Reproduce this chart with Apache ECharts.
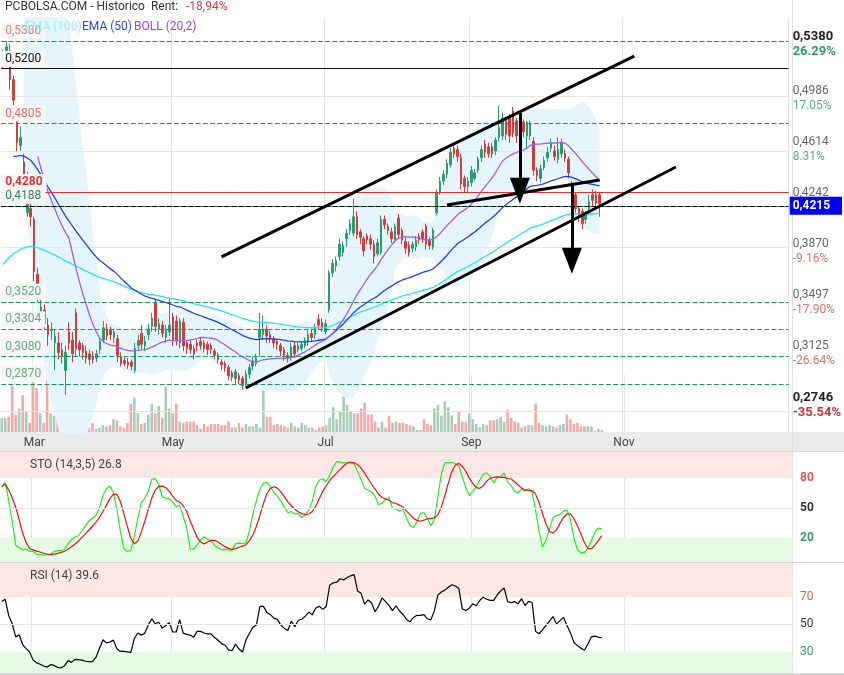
<!DOCTYPE html>
<html>
<head>
<meta charset="utf-8">
<script src="https://cdn.jsdelivr.net/npm/echarts@6/dist/echarts.min.js"></script>
<style>html,body{margin:0;padding:0;background:#fff}#chart{width:844px;height:675px}</style>
</head>
<body>
<div id="chart"></div>
<script>
// candles: open, close, low, high
var candles = [
[0.525,0.530,0.520,0.534],[0.528,0.536,0.524,0.540],[0.533,0.512,0.505,0.538],[0.512,0.497,0.492,0.515],
[0.483,0.466,0.460,0.486],[0.464,0.470,0.460,0.478],[0.452,0.440,0.436,0.458],[0.415,0.426,0.412,0.445],
[0.418,0.412,0.405,0.430],[0.410,0.372,0.365,0.412],[0.370,0.355,0.350,0.375],[0.340,0.346,0.338,0.352],
[0.344,0.334,0.330,0.348],[0.333,0.326,0.318,0.338],[0.329,0.330,0.322,0.335],[0.320,0.325,0.300,0.330],
[0.320,0.313,0.308,0.328],[0.315,0.310,0.305,0.320],[0.300,0.313,0.282,0.318],[0.328,0.320,0.315,0.335],
[0.322,0.312,0.306,0.328],[0.342,0.316,0.310,0.345],[0.320,0.315,0.310,0.322],[0.318,0.313,0.308,0.320],
[0.314,0.309,0.305,0.318],[0.312,0.308,0.304,0.315],[0.310,0.308,0.305,0.314],[0.309,0.312,0.306,0.315],
[0.315,0.321,0.312,0.324],[0.322,0.331,0.320,0.336],[0.330,0.325,0.322,0.334],[0.329,0.326,0.322,0.332],
[0.324,0.328,0.320,0.330],[0.323,0.311,0.306,0.326],[0.310,0.305,0.303,0.313],[0.307,0.305,0.303,0.310],
[0.306,0.304,0.301,0.309],[0.306,0.303,0.300,0.308],[0.300,0.316,0.298,0.320],[0.318,0.322,0.314,0.326],
[0.327,0.319,0.315,0.333],[0.318,0.321,0.314,0.325],[0.326,0.330,0.322,0.334],[0.332,0.338,0.328,0.342],
[0.349,0.332,0.328,0.352],[0.330,0.334,0.326,0.338],[0.333,0.327,0.324,0.336],[0.324,0.330,0.320,0.333],
[0.328,0.333,0.325,0.352],[0.339,0.322,0.318,0.342],[0.336,0.322,0.318,0.340],[0.320,0.336,0.316,0.338],
[0.335,0.318,0.314,0.338],[0.320,0.316,0.312,0.322],[0.319,0.315,0.312,0.322],[0.316,0.312,0.308,0.318],
[0.320,0.318,0.314,0.322],[0.321,0.318,0.315,0.324],[0.320,0.316,0.313,0.322],[0.319,0.315,0.311,0.321],
[0.318,0.315,0.312,0.320],[0.314,0.311,0.308,0.316],[0.311,0.308,0.305,0.313],[0.306,0.304,0.300,0.308],
[0.305,0.302,0.299,0.307],[0.302,0.296,0.293,0.304],[0.298,0.295,0.292,0.300],[0.294,0.299,0.290,0.301],
[0.296,0.293,0.290,0.298],[0.294,0.289,0.286,0.296],[0.290,0.297,0.288,0.300],[0.297,0.302,0.294,0.305],
[0.303,0.307,0.300,0.310],[0.305,0.309,0.303,0.312],[0.324,0.330,0.310,0.342],[0.326,0.330,0.322,0.340],
[0.330,0.325,0.320,0.333],[0.326,0.323,0.320,0.329],[0.323,0.320,0.316,0.325],[0.321,0.319,0.315,0.323],
[0.318,0.314,0.310,0.320],[0.315,0.311,0.307,0.317],[0.311,0.309,0.306,0.313],[0.310,0.317,0.307,0.320],
[0.318,0.312,0.309,0.321],[0.315,0.318,0.313,0.320],[0.316,0.319,0.314,0.321],[0.318,0.322,0.316,0.324],
[0.321,0.326,0.318,0.329],[0.327,0.324,0.321,0.330],[0.326,0.331,0.323,0.334],[0.337,0.333,0.330,0.341],
[0.335,0.331,0.328,0.338],[0.328,0.334,0.326,0.337],[0.344,0.371,0.342,0.373],[0.371,0.378,0.368,0.381],
[0.376,0.380,0.372,0.383],[0.383,0.392,0.380,0.396],[0.386,0.391,0.383,0.394],[0.396,0.400,0.390,0.403],
[0.402,0.407,0.399,0.410],[0.400,0.412,0.398,0.425],[0.412,0.399,0.396,0.416],[0.401,0.397,0.392,0.403],
[0.396,0.387,0.383,0.398],[0.398,0.395,0.392,0.400],[0.396,0.392,0.388,0.399],[0.392,0.383,0.378,0.395],
[0.385,0.393,0.383,0.396],[0.386,0.410,0.384,0.413],[0.410,0.406,0.403,0.413],[0.405,0.402,0.399,0.407],
[0.401,0.396,0.393,0.404],[0.395,0.405,0.393,0.407],[0.411,0.399,0.396,0.414],[0.402,0.395,0.392,0.404],
[0.394,0.389,0.385,0.397],[0.391,0.386,0.383,0.394],[0.389,0.392,0.386,0.394],[0.390,0.395,0.387,0.398],
[0.398,0.395,0.392,0.400],[0.401,0.396,0.393,0.403],[0.405,0.392,0.388,0.407],[0.395,0.391,0.388,0.397],
[0.390,0.402,0.388,0.404],[0.415,0.430,0.413,0.432],[0.430,0.438,0.428,0.441],[0.438,0.443,0.435,0.446],
[0.443,0.451,0.440,0.454],[0.450,0.459,0.448,0.462],[0.462,0.458,0.455,0.465],[0.461,0.456,0.452,0.464],
[0.455,0.436,0.432,0.458],[0.440,0.434,0.430,0.442],[0.434,0.438,0.430,0.441],[0.437,0.446,0.434,0.449],
[0.440,0.444,0.438,0.447],[0.446,0.454,0.444,0.456],[0.455,0.461,0.452,0.464],[0.465,0.459,0.455,0.468],
[0.463,0.458,0.455,0.466],[0.463,0.458,0.455,0.466],[0.460,0.468,0.457,0.470],[0.470,0.477,0.467,0.493],
[0.471,0.484,0.468,0.488],[0.482,0.472,0.468,0.484],[0.484,0.471,0.466,0.487],[0.489,0.473,0.470,0.492],
[0.482,0.471,0.466,0.484],[0.468,0.480,0.466,0.482],[0.481,0.474,0.470,0.483],[0.471,0.481,0.462,0.482],
[0.471,0.480,0.468,0.482],[0.467,0.446,0.442,0.470],[0.446,0.442,0.438,0.448],[0.440,0.447,0.437,0.450],
[0.448,0.453,0.446,0.456],[0.455,0.459,0.452,0.463],[0.462,0.466,0.459,0.469],[0.460,0.456,0.453,0.464],
[0.454,0.461,0.451,0.470],[0.458,0.466,0.455,0.469],[0.458,0.455,0.452,0.461],[0.454,0.444,0.440,0.456],
[0.436,0.425,0.422,0.438],[0.428,0.418,0.415,0.430],[0.418,0.412,0.408,0.420],[0.416,0.407,0.403,0.418],
[0.410,0.414,0.407,0.416],[0.418,0.423,0.414,0.428],[0.428,0.424,0.420,0.432],[0.428,0.422,0.418,0.431],
[0.428,0.4215,0.412,0.430]
];
var volumes = [
35,35,38,116,44,59,92,53,23,125, 110,47,23,131,47,41,35,32,20,23,
14,20,32,14,8,11,23,8,11,17, 14,17,32,29,14,11,23,71,86,47,
20,23,44,71,47,65,35,113,59,47, 71,26,23,26,26,26,17,8,20,14,
20,20,20,17,17,26,11,11,23,11, 20,14,14,20,11,143,38,38,17,20,
17,14,11,23,14,11,23,17,11,11, 5,11,14,17,35,62,32,53,89,68,
53,47,47,59,74,44,44,26,11,26, 11,41,23,26,23,23,20,17,14,5,
5,32,20,17,59,68,41,77,62,41, 20,53,26,26,47,32,20,12,20,17,
29,29,32,38,26,56,35,26,23,11, 14,17,17,71,23,17,14,17,14,11,
17,20,44,32,20,23,14,14,14,14, 2,8,5
];
var slotCount = 227;
var monthIdx = [9, 49, 93, 135, 179];
var monthNames = ['Mar', 'May', 'Jul', 'Sep', 'Nov'];
var priceTicks = [0.5380, 0.4986, 0.4614, 0.4242, 0.3870, 0.3497, 0.3125, 0.2746];
var priceTickPct = ['26.29%', '17.05%', '8.31%', '', '-9.16%', '-17.90%', '-26.64%', '-35.54%'];
var redLevels = [0.5380, 0.4805];
var greenLevels = [0.3520, 0.3304, 0.3080, 0.2870];
var lastPrice = 0.4215;

var categories = [];
for (var i = 0; i < slotCount; i++) {
    var m = monthIdx.indexOf(i);
    categories.push(m >= 0 ? monthNames[m] : String(i));
}
var n = candles.length;
var closes = candles.map(function (c) { return c[1]; });
var lows = candles.map(function (c) { return c[2]; });
var highs = candles.map(function (c) { return c[3]; });

// indicators
var ema = function (period, seed, from) {
    var k = 2 / (period + 1), e = seed, out = [];
    for (var i = 0; i < n; i++) {
        e = closes[i] * k + e * (1 - k);
        out.push(i >= from ? +e.toFixed(5) : null);
    }
    return out;
};
var ema100 = ema(100, 0.374, 0);
var ema50 = ema(50, 0.445, 3);
var bollMid = [], bollLow = [], bollDiff = [];
for (var i = 0; i < n; i++) {
    var w = closes.slice(Math.max(0, i - 19), i + 1);
    var mean = w.reduce(function (a, b) { return a + b; }, 0) / w.length;
    var sd = Math.sqrt(w.reduce(function (a, b) { return a + (b - mean) * (b - mean); }, 0) / w.length);
    bollMid.push(i >= 10 ? +mean.toFixed(5) : null);
    bollLow.push(i >= 6 ? +(mean - 2 * sd).toFixed(5) : null);
    bollDiff.push(i >= 6 ? +(4 * sd).toFixed(5) : null);
}
var rawK = [];
for (var i = 0; i < n; i++) {
    var hh = Math.max.apply(null, highs.slice(Math.max(0, i - 13), i + 1));
    var ll = Math.min.apply(null, lows.slice(Math.max(0, i - 13), i + 1));
    rawK.push(hh > ll ? (closes[i] - ll) / (hh - ll) * 100 : 50);
}
var sma = function (arr, p) {
    return arr.map(function (v, i) {
        var w = arr.slice(Math.max(0, i - p + 1), i + 1);
        return w.reduce(function (a, b) { return a + b; }, 0) / w.length;
    });
};
var stoK = sma(rawK, 3);
var stoD = sma(stoK, 5);
var rsi = [], ag = 0.006, al = 0.003;
for (var i = 0; i < n; i++) {
    if (i > 0) {
        var d = closes[i] - closes[i - 1];
        ag = (ag * 13 + (d > 0 ? d : 0)) / 14;
        al = (al * 13 + (d < 0 ? -d : 0)) / 14;
    }
    rsi.push(+(100 - 100 / (1 + ag / al)).toFixed(2));
}

const upColor = '#2a9d6f';
const downColor = '#d23c3c';
var volData = volumes.slice(0, n).map(function (v, i) {
    var up = candles[i][1] >= candles[i][0];
    return {value: v, itemStyle: {color: up ? '#a9cbb9' : '#f3a9a9'}};
});

var fmt = function (v) { return v.toFixed(4).replace('.', ','); };
var levelLine = function (v, color, type, bold) {
    return {
        yAxis: v,
        lineStyle: {color: color, type: type, width: 1.2},
        label: {
            show: true, position: 'insideStartTop', formatter: fmt(v), color: color,
            fontWeight: bold ? 'bold' : 'normal', fontSize: 12, distance: [0, 2],
            backgroundColor: '#f6f6f6', padding: [2, 4, 2, 4]
        }
    };
};
var catAt = function (i) { return categories[i]; };
var seg = function (i1, p1, i2, p2, arrow) {
    return [
        {coord: [catAt(i1), p1], symbol: 'none'},
        {coord: [catAt(i2), p2], symbol: arrow ? 'triangle' : 'none', symbolSize: arrow ? [20, 26] : 0}
    ];
};

var markLines = [];
redLevels.forEach(function (v) { markLines.push(levelLine(v, '#dd3333', 'dashed', false)); });
markLines[0].label.color = '#e08080';
markLines[1].label.color = '#e07070';
markLines.push(levelLine(0.5200, '#111', 'solid', false));
markLines.push(levelLine(0.4280, '#dd3333', 'solid', true));
markLines.push(levelLine(0.4188, '#2e8b57', 'solid', false));
greenLevels.forEach(function (v) {
    var ml = levelLine(v, '#1f9460', 'dashed', false);
    ml.label.color = '#6aa88a';
    markLines.push(ml);
});
markLines.push({
    yAxis: lastPrice, lineStyle: {color: '#000', type: 'dashed', width: 1.2},
    label: {show: true, position: 'end', formatter: fmt(lastPrice), color: '#fff', fontWeight: 'bold',
        backgroundColor: '#0000ff', padding: [3, 12, 3, 3], distance: 1}
});
var trendStyle = {color: '#000', width: 3, type: 'solid'};
[
    seg(63, 0.3827, 182, 0.5292, false),
    seg(70, 0.2871, 194, 0.4483, false),
    seg(128, 0.4206, 172, 0.4388, false),
    seg(149, 0.4877, 149, 0.4310, true),
    seg(164, 0.4366, 164, 0.3800, true)
].forEach(function (s) {
    s[0].lineStyle = trendStyle;
    s[0].label = {show: false};
    markLines.push(s);
});

var gridLines = priceTicks.map(function (v) {
    return {yAxis: v, lineStyle: {color: '#e6e6e6', type: 'solid', width: 1}, label: {show: false}};
});

var splitX = {show: true, interval: function (idx) { return monthIdx.indexOf(idx) >= 0; }, lineStyle: {color: '#e6e6e6'}};
var xBase = function (gi, labels) {
    return {
        type: 'category', gridIndex: gi, data: categories, boundaryGap: true,
        axisLine: {show: false}, axisTick: {show: false},
        axisLabel: labels ? {
            show: true, interval: 0, color: '#444', fontSize: 12, margin: 5,
            formatter: function (v) { return monthNames.indexOf(v) >= 0 ? v : ''; }
        } : {show: false},
        splitLine: splitX
    };
};

var chart = echarts.init(document.getElementById('chart'));
chart.setOption({
    animation: false,
    textStyle: {fontFamily: 'Roboto'},
    graphic: [
        {type: 'rect', z: -1, shape: {x: 0, y: 432, width: 844, height: 20}, style: {fill: '#ebebeb'}},
        {type: 'rect', z: -1, shape: {x: 0, y: 451, width: 844, height: 1}, style: {fill: '#d8d8d8'}},
        {type: 'rect', z: -1, shape: {x: 0, y: 562, width: 844, height: 1}, style: {fill: '#d8d8d8'}},
        {type: 'rect', z: -1, shape: {x: 0, y: 673, width: 844, height: 2}, style: {fill: '#d8d8d8'}},
        {type: 'rect', z: -1, shape: {x: 792, y: 0, width: 1, height: 675}, style: {fill: '#dedede'}},
        {type: 'text', z: 100, left: 5, top: 1, style: {text: 'PCBOLSA.COM - Historico  Rent:', fontSize: 12, fill: '#333', fontFamily: 'Roboto'}},
        {type: 'text', z: 100, left: 186, top: 1, style: {text: '-18,94%', fontSize: 12, fill: '#d94040', fontFamily: 'Roboto'}},
        {type: 'text', z: 100, left: 25, top: 21, style: {text: 'EMA (100)', fontSize: 12, fill: '#8ff0f5', fontFamily: 'Roboto'}},
        {type: 'text', z: 100, left: 82, top: 21, style: {text: 'EMA (50)', fontSize: 12, fill: '#3344ee', fontFamily: 'Roboto'}},
        {type: 'text', z: 100, left: 134, top: 21, style: {text: 'BOLL (20,2)', fontSize: 12, fill: '#a040e0', fontFamily: 'Roboto'}},
        {type: 'text', z: 100, left: 30, top: 459, style: {text: 'STO (14,3,5) 26.8', fontSize: 12, fill: '#444', fontFamily: 'Roboto'}},
        {type: 'text', z: 100, left: 30, top: 570, style: {text: 'RSI (14) 39.6', fontSize: 12, fill: '#444', fontFamily: 'Roboto'}}
    ],
    grid: [
        {left: 0, right: 52, top: 18, height: 414},
        {left: 0, right: 52, top: 375, height: 57},
        {left: 0, right: 52, top: 452, height: 110},
        {left: 0, right: 52, top: 563, height: 110}
    ],
    xAxis: [xBase(0, true), xBase(1, false), xBase(2, false), xBase(3, false)],
    yAxis: [
        {
            type: 'value', gridIndex: 0, position: 'right', min: 0.255, max: 0.557,
            splitLine: {show: false}, axisLine: {show: false}, axisTick: {show: false},
            axisLabel: {
                customValues: priceTicks, margin: 4, lineHeight: 15,
                formatter: function (v) {
                    var k = priceTicks.indexOf(v);
                    var pct = k >= 0 ? priceTickPct[k] : '';
                    var strong = (k === 0 || k === priceTicks.length - 1);
                    var neg = pct.charAt(0) === '-';
                    var vs = strong ? 'vb' : 'v';
                    var ps = pct === '' ? 'v' : (strong ? (neg ? 'nb' : 'gb') : (neg ? 'n' : 'g'));
                    return '{' + vs + '|' + fmt(v) + '}\n{' + ps + '|' + pct + '}';
                },
                rich: {
                    v: {color: '#666', fontSize: 12}, vb: {color: '#222', fontSize: 13, fontWeight: 'bold'},
                    g: {color: '#5fae88', fontSize: 12}, gb: {color: '#2a9d6f', fontSize: 13, fontWeight: 'bold'},
                    n: {color: '#e07070', fontSize: 12}, nb: {color: '#d93030', fontSize: 13, fontWeight: 'bold'}
                }
            }
        },
        {type: 'value', gridIndex: 1, min: 0, max: 143, show: false, splitLine: {show: false}},
        {
            type: 'value', gridIndex: 2, position: 'right', min: -4, max: 106,
            splitLine: {show: false}, axisLine: {show: false}, axisTick: {show: false},
            axisLabel: {customValues: [20, 50, 80], margin: 8, fontWeight: 'bold', fontSize: 12,
                color: function (v) { return v >= 80 ? '#d95c5c' : (v <= 20 ? '#3a9a6a' : '#333'); }}
        },
        {
            type: 'value', gridIndex: 3, position: 'right', min: 14.7, max: 94.7,
            splitLine: {show: false}, axisLine: {show: false}, axisTick: {show: false},
            axisLabel: {customValues: [30, 50, 70], margin: 8, fontSize: 12,
                color: function (v) { return v >= 70 ? '#d95c5c' : (v <= 30 ? '#3a9a6a' : '#333'); }}
        }
    ],
    series: [
        {type: 'line', name: 'bandLow', data: bollLow, stack: 'boll', symbol: 'none', lineStyle: {opacity: 0}, silent: true,
            markLine: {silent: true, symbol: 'none', data: gridLines}},
        {type: 'line', name: 'band', data: bollDiff, stack: 'boll', symbol: 'none', lineStyle: {opacity: 0},
            areaStyle: {color: '#e6f5fc', opacity: 1}, silent: true},
        {type: 'line', name: 'EMA (100)', z: 6, data: ema100, symbol: 'none', lineStyle: {color: '#22e6f0', width: 1.3}},
        {type: 'line', name: 'EMA (50)', z: 6, data: ema50, symbol: 'none', lineStyle: {color: '#1f40ee', width: 1.3}},
        {type: 'line', name: 'BOLL (20,2)', z: 7, data: bollMid, symbol: 'none', lineStyle: {color: '#a060e8', width: 1.3},
            markLine: {silent: true, symbol: 'none', animation: false, z: 20, data: markLines}},
        {type: 'bar', xAxisIndex: 1, yAxisIndex: 1, data: volData, barWidth: 2.6, silent: true},
        {
            type: 'candlestick', name: 'PCBOLSA', z: 5, data: candles,
            barMaxWidth: 3, barMinWidth: 2,
            itemStyle: {color: upColor, color0: downColor, borderColor: upColor, borderColor0: downColor, borderWidth: 1}
        },
        {type: 'line', xAxisIndex: 2, yAxisIndex: 2, data: stoK, symbol: 'none', lineStyle: {color: '#22ee22', width: 1.2},
            markArea: {silent: true, data: [
                [{yAxis: 80, itemStyle: {color: '#fde6e6'}}, {yAxis: 106}],
                [{yAxis: -4, itemStyle: {color: '#e6fbe6'}}, {yAxis: 20}]
            ]},
            markLine: {silent: true, symbol: 'none', label: {show: false},
                data: [{yAxis: 50, lineStyle: {color: '#e6e6e6', type: 'solid'}}]}},
        {type: 'line', xAxisIndex: 2, yAxisIndex: 2, data: stoD, symbol: 'none', lineStyle: {color: '#ee1111', width: 1.2}},
        {type: 'line', xAxisIndex: 3, yAxisIndex: 3, data: [], symbol: 'none',
            markArea: {silent: true, data: [
                [{yAxis: 70, itemStyle: {color: '#fde6e6'}}, {yAxis: 94.7}],
                [{yAxis: 14.7, itemStyle: {color: '#e6fbe6'}}, {yAxis: 30}]
            ]},
            markLine: {silent: true, symbol: 'none', label: {show: false},
                data: [{yAxis: 50, lineStyle: {color: '#e6e6e6', type: 'solid'}}]}},
        {type: 'line', xAxisIndex: 3, yAxisIndex: 3, data: rsi, symbol: 'none', lineStyle: {width: 1.2, color: '#000'}}
    ]
});
</script>
</body>
</html>
